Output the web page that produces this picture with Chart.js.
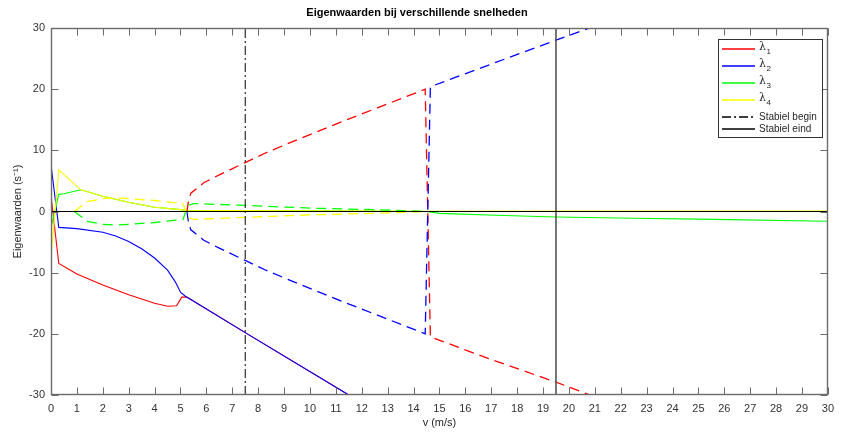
<!DOCTYPE html>
<html>
<head>
<meta charset="utf-8">
<script src="https://cdn.jsdelivr.net/npm/chart.js@4.4.1/dist/chart.umd.min.js"></script>
<style>
html,body{margin:0;padding:0;background:#fff;}
canvas{display:block;}
</style>
</head>
<body>
<canvas id="c" width="841" height="432"></canvas>
<script>
// ---------- data ----------
const xTicks = [0, 30, 1];          // min, max, step of v axis
const yTicks = [-30, 30, 10];       // min, max, step of eigenvalue axis
const seriesLabels = ['λ1', 'λ2', 'λ3', 'λ4'];
const markerLabels = ['Stabiel begin', 'Stabiel eind'];
const markerSpeeds = [7.5, 19.5];

// real parts (solid)
const vRe1 = [0, 0.3, 1, 2, 3, 4, 4.5, 4.85, 5.05, 5.25, 5.4, 7.5, 11.5];
const re1  = [2.6, -8.5, -10.2, -12.0, -13.6, -15.0, -15.5, -15.4, -14.0, -14.0, -14.4, -19.8, -30];
const vRe2 = [0, 0.3, 1, 2, 2.5, 3, 3.5, 4, 4.5, 4.8, 5.0, 5.2, 5.4, 7.5, 11.5];
const re2  = [7.6, -2.6, -2.8, -3.4, -4.0, -4.9, -6.1, -7.6, -9.6, -11.5, -13.2, -13.9, -14.4, -19.8, -30];
const vRe3 = [0, 0.3, 0.5, 1.15, 2, 3, 4, 5, 5.2, 7.5, 10, 14.5, 15, 17.5, 19.5, 22.5, 25, 30];
const re3  = [-2.6, 2.8, 2.9, 3.55, 2.5, 1.5, 0.7, 0.3, 0.2, 0.15, 0.1, 0.0, -0.3, -0.65, -0.9, -1.1, -1.25, -1.6];
const vRe4 = [0, 0.3, 1.15, 2, 3, 4, 5, 5.2, 7.5, 10, 14.5, 20, 30];
const re4  = [-7.5, 6.8, 3.55, 2.5, 1.5, 0.7, 0.3, 0.2, 0.15, 0.1, 0.05, 0.08, 0.08];

// imaginary parts (dashed)
const vIm1 = [5.25, 5.3, 5.4, 5.9, 6.5, 7.5, 8.3, 9.6, 11, 13, 14.45, 14.65, 17, 19.5, 21];
const im1  = [0, 1.5, 3.0, 4.7, 6.0, 8.0, 9.6, 11.9, 14.3, 17.6, 20.0, -20.5, -24.2, -27.9, -30.3];
const vIm2 = [5.25, 5.3, 5.4, 5.9, 6.5, 7.5, 8.3, 9.6, 11, 13, 14.45, 14.65, 17, 19.5, 21];
const im2  = [0, -1.5, -3.0, -4.7, -6.0, -8.0, -9.6, -11.9, -14.3, -17.6, -20.0, 20.4, 24.1, 28.0, 30.3];
const vIm3 = [0.9, 1.4, 2, 2.5, 3, 4, 5.1, 5.2, 5.3, 5.5, 7.5, 10, 12.5, 14.5];
const im3  = [0, -1.6, -2.1, -2.2, -2.1, -1.8, -1.3, 0, 1.0, 1.3, 1.0, 0.55, 0.3, 0];
const vIm4 = [0.9, 1.4, 2, 2.5, 3, 4, 5.1, 5.2, 5.3, 5.5, 7.5, 10, 12.5, 14.5];
const im4  = [0, 1.6, 2.1, 2.2, 2.1, 1.8, 1.3, 0, -1.0, -1.3, -0.95, -0.55, -0.3, 0];

// ---------- helpers ----------
const pts = (xs, ys) => xs.map((x, i) => ({x: x, y: ys[i]}));
const colors = ['#ff0000', '#0000ff', '#00ff00', '#ffff00'];
const DASH = [10, 6];
const DASHDOT = [9, 3, 2, 3];

const line = (data, color, width, dash, extra) => Object.assign({
  data: data, borderColor: color, backgroundColor: color, borderWidth: width,
  borderDash: dash, pointRadius: 0, pointHoverRadius: 0, tension: 0, fill: false
}, extra || {});

const datasets = [
  line(pts([xTicks[0], xTicks[1]], [0, 0]), '#000000', 1, [], {label: 'nul'}),
  line(pts([markerSpeeds[0], markerSpeeds[0]], [yTicks[0], yTicks[1]]), '#000000', 1, DASHDOT, {label: markerLabels[0], legendOrder: 4}),
  line(pts([markerSpeeds[1], markerSpeeds[1]], [yTicks[0], yTicks[1]]), '#555555', 1.6, [], {label: markerLabels[1], legendOrder: 5}),
  line(pts(vIm4, im4), colors[3], 1.3, DASH, {label: 'Im ' + seriesLabels[3]}),
  line(pts(vIm3, im3), colors[2], 1.3, DASH, {label: 'Im ' + seriesLabels[2]}),
  line(pts(vIm2, im2), colors[1], 1.3, DASH, {label: 'Im ' + seriesLabels[1]}),
  line(pts(vIm1, im1), colors[0], 1.3, DASH, {label: 'Im ' + seriesLabels[0]}),
  line(pts(vRe4, re4), colors[3], 1.1, [], {label: seriesLabels[3], legendOrder: 3}),
  line(pts(vRe3, re3), colors[2], 1.1, [], {label: seriesLabels[2], legendOrder: 2}),
  line(pts(vRe2, re2), colors[1], 1.1, [], {label: seriesLabels[1], legendOrder: 1}),
  line(pts(vRe1, re1), colors[0], 1.1, [], {label: seriesLabels[0], legendOrder: 0})
];

// ---------- plugins ----------
const FONT = "'Liberation Sans', Arial, Helvetica, sans-serif";

const bgPlugin = {
  id: 'bg',
  beforeDraw(chart) {
    const ctx = chart.ctx;
    ctx.save(); ctx.fillStyle = '#fff'; ctx.fillRect(0, 0, chart.width, chart.height); ctx.restore();
  }
};

const framePlugin = {
  id: 'frame',
  afterDatasetsDraw(chart) {
    const {ctx, chartArea: a, scales: {x, y}} = chart;
    const L = Math.round(a.left) + 0.5, R = Math.round(a.right) - 0.5;
    const T = Math.round(a.top) + 0.5, B = Math.round(a.bottom) - 0.5;
    const TL = 7;
    ctx.save();
    ctx.strokeStyle = '#6b6b6b';
    ctx.lineWidth = 1;
    ctx.beginPath();
    x.ticks.forEach(t => {
      const px = Math.round(x.getPixelForValue(t.value)) + 0.5;
      ctx.moveTo(px, B); ctx.lineTo(px, B - TL);
      ctx.moveTo(px, T); ctx.lineTo(px, T + TL);
    });
    y.ticks.forEach(t => {
      const py = Math.round(y.getPixelForValue(t.value)) + 0.5;
      ctx.moveTo(L, py); ctx.lineTo(L + TL, py);
      ctx.moveTo(R, py); ctx.lineTo(R - TL, py);
    });
    ctx.stroke();
    ctx.lineWidth = 1.4;
    ctx.strokeRect(L, T, R - L, B - T);
    ctx.restore();
  }
};

const legendPlugin = {
  id: 'boxLegend',
  afterDraw(chart) {
    const ctx = chart.ctx;
    const items = chart.data.datasets.filter(d => d.legendOrder !== undefined)
      .sort((p, q) => p.legendOrder - q.legendOrder);
    const box = {x: 718.5, y: 39.5, w: 104, h: 98};
    const rows = [49, 66, 83, 100, 117, 129];
    ctx.save();
    ctx.fillStyle = '#fff';
    ctx.fillRect(box.x, box.y, box.w, box.h);
    ctx.strokeStyle = '#333';
    ctx.lineWidth = 1;
    ctx.strokeRect(box.x, box.y, box.w, box.h);
    items.forEach((d, i) => {
      const yy = rows[i];
      ctx.beginPath();
      ctx.setLineDash(d.borderDash || []);
      ctx.strokeStyle = d.legendOrder === 5 ? '#000000' : d.borderColor;
      ctx.lineWidth = 1.5;
      ctx.moveTo(722, yy); ctx.lineTo(755, yy);
      ctx.stroke();
      ctx.setLineDash([]);
      ctx.fillStyle = '#262626';
      ctx.textAlign = 'left';
      ctx.textBaseline = 'middle';
      const lab = d.label;
      if (lab.charAt(0) === 'λ') {
        ctx.font = "11px 'DejaVu Serif', serif";
        ctx.fillText('λ', 759, yy - 1.5);
        const w = ctx.measureText('λ').width;
        ctx.font = "8px " + FONT;
        ctx.fillText(lab.slice(1), 759 + w + 0.5, yy + 3);
      } else {
        ctx.font = "10px " + FONT;
        ctx.fillText(lab, 759, yy);
      }
    });
    ctx.restore();
  }
};

// ---------- chart ----------
Chart.defaults.font.family = FONT;
Chart.defaults.color = '#333';

new Chart(document.getElementById('c'), {
  type: 'line',
  data: {datasets: datasets},
  plugins: [bgPlugin, framePlugin, legendPlugin],
  options: {
    responsive: false,
    devicePixelRatio: 1,
    animation: false,
    events: [],
    layout: {padding: {left: 0, right: 7, top: 0, bottom: 0}},
    plugins: {
      legend: {display: false},
      tooltip: {enabled: false},
      title: {
        display: true,
        text: 'Eigenwaarden bij verschillende snelheden',
        color: '#000',
        font: {size: 11, weight: 'bold'},
        padding: {top: 6, bottom: 8.8}
      }
    },
    scales: {
      x: {
        type: 'linear',
        min: xTicks[0], max: xTicks[1],
        grid: {display: false, drawTicks: false},
        border: {display: false},
        ticks: {stepSize: xTicks[2], autoSkip: false, maxRotation: 0, padding: 7, font: {size: 11}, color: '#333'},
        title: {display: true, text: 'v (m/s)', color: '#262626', font: {size: 11}, padding: {top: 0, bottom: 2.4}},
        afterFit: s => { s.height = 37; }
      },
      y: {
        type: 'linear',
        min: yTicks[0], max: yTicks[1],
        grid: {display: false, drawTicks: false},
        border: {display: false},
        ticks: {stepSize: yTicks[2], padding: 6, font: {size: 11}, color: '#333'},
        title: {display: true, text: 'Eigenwaarden (s⁻¹)', color: '#262626', font: {size: 11}, padding: {top: 11, bottom: 0}},
        afterFit: s => { s.width = 51; }
      }
    }
  }
});
</script>
</body>
</html>
